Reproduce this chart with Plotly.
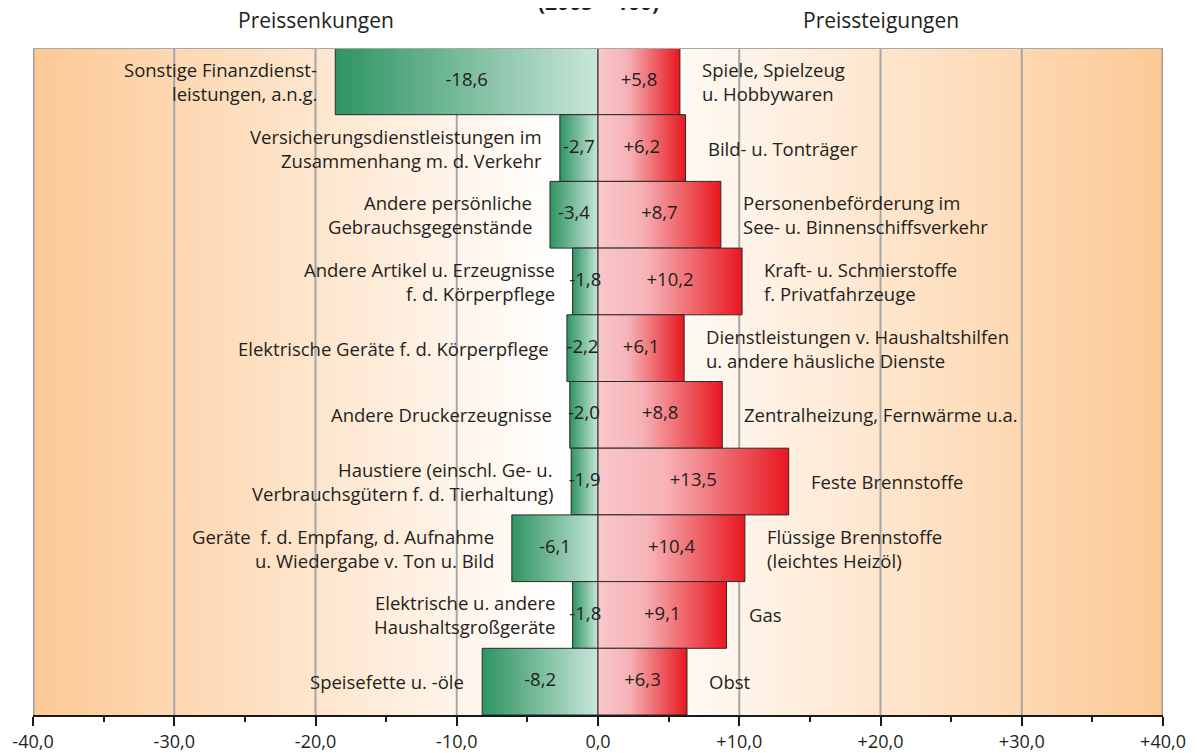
import plotly.graph_objects as go

# ---------------- data ----------------
left_labels = [
    "Sonstige Finanzdienst-<br>leistungen, a.n.g.",
    "Versicherungsdienstleistungen im<br>Zusammenhang m. d. Verkehr",
    "Andere persönliche<br>Gebrauchsgegenstände",
    "Andere Artikel u. Erzeugnisse<br>f. d. Körperpflege",
    "Elektrische Geräte f. d. Körperpflege",
    "Andere Druckerzeugnisse",
    "Haustiere (einschl. Ge- u.<br>Verbrauchsgütern f. d. Tierhaltung)",
    "Geräte  f. d. Empfang, d. Aufnahme<br>u. Wiedergabe v. Ton u. Bild",
    "Elektrische u. andere<br>Haushaltsgroßgeräte",
    "Speisefette u. -öle",
]
left_values = [-18.6, -2.7, -3.4, -1.8, -2.2, -2.0, -1.9, -6.1, -1.8, -8.2]

right_labels = [
    "Spiele, Spielzeug<br>u. Hobbywaren",
    "Bild- u. Tonträger",
    "Personenbeförderung im<br>See- u. Binnenschiffsverkehr",
    "Kraft- u. Schmierstoffe<br>f. Privatfahrzeuge",
    "Dienstleistungen v. Haushaltshilfen<br>u. andere häusliche Dienste",
    "Zentralheizung, Fernwärme u.a.",
    "Feste Brennstoffe",
    "Flüssige Brennstoffe<br>(leichtes Heizöl)",
    "Gas",
    "Obst",
]
right_values = [5.8, 6.2, 8.7, 10.2, 6.1, 8.8, 13.5, 10.4, 9.1, 6.3]

tick_values = [-40, -30, -20, -10, 0, 10, 20, 30, 40]
tick_labels = ["-40,0", "-30,0", "-20,0", "-10,0", "0,0", "+10,0", "+20,0", "+30,0", "+40,0"]

title_text = "(2005 = 100)"
header_left = "Preissenkungen"
header_right = "Preissteigungen"

# ---------------- style ----------------
FONT = "Open Sans"
TXT = "#231f20"
ORANGE = "#FCC995"
GREEN_SCALE = [[0, "#2E9462"], [1, "#C9E6DA"]]
RED_SCALE = [[0, "#F9C7CA"], [0.35, "#F6B3B7"], [1, "#E8171F"]]
GRID = "#A6A6A6"
EDGE = "#2b2b2b"
LABEL_FS = 18.5
VALUE_FS = 18.5
TICK_FS = 18
HEADER_FS = 21
LINE_GAP = 24  # px between the two lines of a label

n = len(left_values)
ymin, ymax = -0.5, n - 0.5
xmin, xmax = tick_values[0], tick_values[-1]

fig = go.Figure()

# background gradient
fig.add_trace(go.Scatter(
    x=[xmin, xmax, xmax, xmin, xmin], y=[ymin, ymin, ymax, ymax, ymin],
    mode="lines", fill="toself", line=dict(width=0),
    fillgradient=dict(type="horizontal", start=xmin, stop=xmax,
                      colorscale=[[0, ORANGE], [0.47, "#FFFFFF"], [0.53, "#FFFFFF"], [1, ORANGE]]),
    hoverinfo="skip", showlegend=False))

# gridlines (above background, below bars)
gx, gy = [], []
for v in tick_values[1:-1]:
    if v == 0:
        continue
    gx += [v, v, None]
    gy += [ymin, ymax, None]
fig.add_trace(go.Scatter(x=gx, y=gy, mode="lines", line=dict(color=GRID, width=2),
                         hoverinfo="skip", showlegend=False))


def fmt(v):
    return f"{v:+.1f}".replace(".", ",")


# bars
for i in range(n):
    for val, scale in ((left_values[i], GREEN_SCALE), (right_values[i], RED_SCALE)):
        x0, x1 = (val, 0) if val < 0 else (0, val)
        fig.add_trace(go.Scatter(
            x=[x0, x1, x1, x0, x0], y=[i - 0.5, i - 0.5, i + 0.5, i + 0.5, i - 0.5],
            mode="lines", fill="toself", line=dict(color=EDGE, width=1),
            fillgradient=dict(type="horizontal", start=x0, stop=x1, colorscale=scale),
            hoverinfo="skip", showlegend=False))

# value labels in bars
fig.add_trace(go.Scatter(
    x=[v / 2 for v in left_values] + [v / 2 for v in right_values],
    y=list(range(n)) * 2,
    mode="text",
    text=[fmt(v) for v in left_values] + [fmt(v) for v in right_values],
    textfont=dict(family=FONT, size=VALUE_FS, color=TXT),
    hoverinfo="skip", showlegend=False))

annotations = []


def add_label(text, x, y, side):
    lines = text.split("<br>")
    k = len(lines)
    for j, line in enumerate(lines):
        off = (j - (k - 1) / 2) * LINE_GAP
        annotations.append(dict(
            text=line, x=x, y=y, xref="x", yref="y",
            xanchor="right" if side == "left" else "left", yanchor="middle",
            xshift=-16 if side == "left" else 20, yshift=-off,
            showarrow=False, font=dict(family=FONT, size=LABEL_FS, color=TXT)))


for i in range(n):
    add_label(left_labels[i], left_values[i], i, "left")
    add_label(right_labels[i], right_values[i], i, "right")

annotations.append(dict(text=title_text, x=0.5, y=1, xref="paper", yref="paper",
                        xanchor="center", yanchor="bottom", yshift=30, showarrow=False,
                        font=dict(family=FONT, size=21, color=TXT, weight="bold")))
annotations.append(dict(text=header_left, x=-20, y=1, xref="x", yref="paper",
                        xanchor="center", yanchor="middle", yshift=28, showarrow=False,
                        font=dict(family=FONT, size=HEADER_FS, color=TXT)))
annotations.append(dict(text=header_right, x=20, y=1, xref="x", yref="paper",
                        xanchor="center", yanchor="middle", yshift=28, showarrow=False,
                        font=dict(family=FONT, size=HEADER_FS, color=TXT)))

shapes = [
    dict(type="line", xref="x", yref="y", x0=xmin, x1=xmin, y0=ymin, y1=ymax,
         line=dict(color="#9E9E9E", width=3), layer="above"),
    dict(type="line", xref="x", yref="y", x0=xmax, x1=xmax, y0=ymin, y1=ymax,
         line=dict(color="#9E9E9E", width=3), layer="above"),
    dict(type="line", xref="x", yref="y", x0=xmin, x1=xmax, y0=ymin, y1=ymin,
         line=dict(color="#A8A8A8", width=2), layer="above"),
]

fig.update_layout(
    width=1189, height=745,
    margin=dict(l=25, r=34, t=40, b=38),
    paper_bgcolor="white", plot_bgcolor="white",
    showlegend=False,
    annotations=annotations,
    shapes=shapes,
    xaxis=dict(range=[xmin, xmax], tickvals=tick_values, ticktext=tick_labels,
               showgrid=False, zeroline=False, showline=True, linecolor="#1a1a1a", linewidth=2,
               ticks="outside", ticklen=9, tickwidth=2, tickcolor="#1a1a1a",
               tickfont=dict(family=FONT, size=TICK_FS, color=TXT),
               minor=dict(dtick=5, ticks="outside", ticklen=5, tickwidth=2, tickcolor="#1a1a1a", showgrid=False),
               fixedrange=True, automargin=False),
    yaxis=dict(range=[ymax, ymin], visible=False, fixedrange=True),
)

fig.write_html("out.html")
